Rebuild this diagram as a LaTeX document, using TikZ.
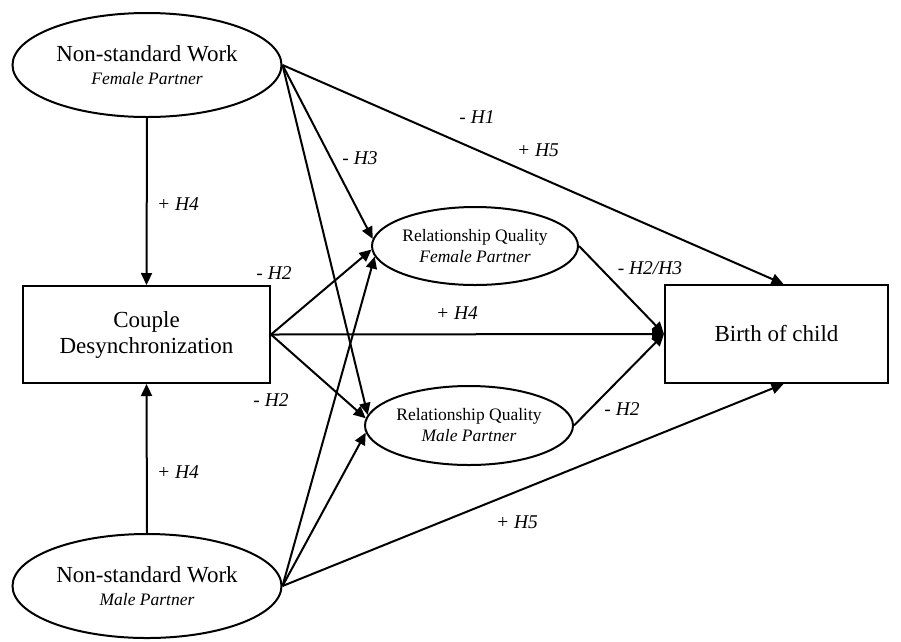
\documentclass[tikz,border=0pt]{standalone}
\usepackage{fontspec}
\setmainfont{Liberation Serif}
\usetikzlibrary{shapes.geometric,arrows.meta}
\begin{document}
\begin{tikzpicture}[x=1pt, y=-1pt, line width=2pt,
    work/.style = {draw, ellipse, inner sep=0pt, minimum width=269pt, minimum height=104pt, align=center, font=\fontsize{23}{23}\selectfont},
    quality/.style = {draw, ellipse, inner sep=0pt, minimum width=206pt, minimum height=78pt, align=center, font=\fontsize{17.5}{21}\selectfont},
    block/.style = {draw, rectangle, inner sep=0pt, align=center, font=\fontsize{23}{26}\selectfont},
    hyp/.style = {inner sep=0pt, font=\fontsize{19.5}{19.5}\selectfont\itshape},
    arr/.style = {-{Triangle[length=12pt, width=11pt]}}]
    \useasboundingbox (0,0) rectangle (901,641);
    % nodes
    \node[work] (nswf) at (147,65) {Non-standard Work\\{\fontsize{17.5}{17.5}\selectfont\itshape Female Partner}};
    \node[work] (nswm) at (147,586) {Non-standard Work\\{\fontsize{17.5}{17.5}\selectfont\itshape Male Partner}};
    \node[block, minimum width=247pt, minimum height=97pt] (cd) at (146.5,334.5) {Couple\\Desynchronization};
    \node[quality] (rqf) at (475,246) {Relationship Quality\\{\itshape Female Partner}};
    \node[quality, minimum width=208pt, minimum height=79pt] (rqm) at (469,425.5) {Relationship Quality\\{\itshape Male Partner}};
    \node[block, minimum width=223pt, minimum height=98pt] (boc) at (776.5,334) {Birth of child};
    % connectors
    \draw[arr] (nswf.south) -- (cd.north);
    \draw[arr] (nswm.north) -- (cd.south);
    \draw[arr] (nswf.east) -- ([xshift=7pt]boc.north);
    \draw[arr] (nswf.east) -- (rqf.176);
    \draw[arr] (nswf.east) -- (rqm.174);
    \draw[arr] (nswm.east) -- (rqf.186);
    \draw[arr] (nswm.east) -- (rqm.184);
    \draw[arr] (nswm.east) -- ([xshift=7pt]boc.south);
    \draw[arr] (cd.east) -- (rqf.182);
    \draw[arr] (cd.east) -- (rqm.176);
    \draw[arr] (cd.east) -- (boc.west);
    \draw[arr] (rqf.east) -- (boc.west);
    \draw[arr] (rqm.east) -- (boc.west);
    % hypotheses
    \node[hyp] (h4a) at (178,204) {+ H4};
    \node[hyp] (h4b) at (178,472) {+ H4};
    \node[hyp] (h2a) at (274,273) {- H2};
    \node[hyp] (h2b) at (271,400) {- H2};
    \node[hyp] (h3) at (360,158) {- H3};
    \node[hyp] (h1) at (477,117) {- H1};
    \node[hyp] (h5a) at (538,150) {+ H5};
    \node[hyp] (h4c) at (457,313) {+ H4};
    \node[hyp] (h23) at (650,268) {- H2/H3};
    \node[hyp] (h2c) at (622,409) {- H2};
    \node[hyp] (h5b) at (517,522) {+ H5};
\end{tikzpicture}
\end{document}
